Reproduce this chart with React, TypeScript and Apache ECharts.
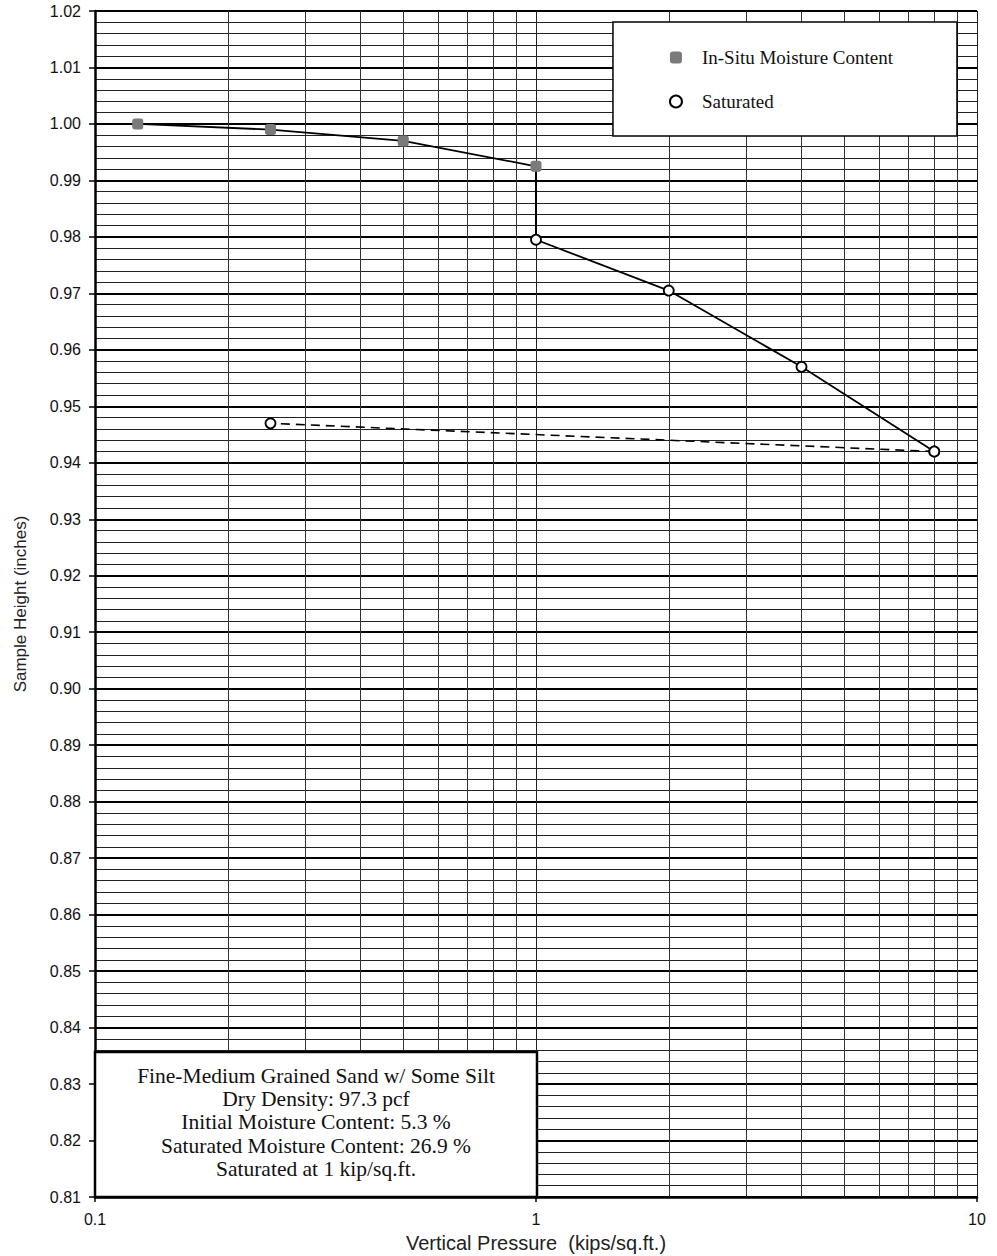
import React, { useEffect, useRef } from "react";
import * as echarts from "echarts";

const inSituX = [0.125, 0.25, 0.5, 1];
const inSituY = [1.0, 0.999, 0.997, 0.9925];
const satLoadX = [1, 2, 4, 8];
const satLoadY = [0.9795, 0.9705, 0.957, 0.942];
const satReboundX = [8, 0.25];
const satReboundY = [0.942, 0.947];
const minorX = [0.2, 0.3, 0.4, 0.5, 0.6, 0.7, 0.8, 0.9, 2, 3, 4, 5, 6, 7, 8, 9];
const noteLines = [
  "Fine-Medium Grained Sand w/ Some Silt",
  "Dry Density: 97.3 pcf",
  "Initial Moisture Content: 5.3 %",
  "Saturated Moisture Content: 26.9 %",
  "Saturated at 1 kip/sq.ft.",
];

const zip = (xs: number[], ys: number[]) => xs.map((x, i) => [x, ys[i]]);

export default function App() {
  const ref = useRef<HTMLDivElement>(null);
  useEffect(() => {
    document.body.style.margin = "0";
    const chart = echarts.init(ref.current!, null, { renderer: "svg" });
    const sans = "Liberation Sans, Arial, sans-serif";
    const serif = "Liberation Serif, Times New Roman, serif";
    chart.setOption({
      animation: false,
      backgroundColor: "#fff",
      grid: { left: 95, right: 20, top: 11, bottom: 59, containLabel: false, outerBoundsMode: "none" },
      xAxis: {
        type: "log",
        logBase: 10,
        min: 0.1,
        max: 10,
        name: "Vertical Pressure  (kips/sq.ft.)",
        nameLocation: "middle",
        nameGap: 36,
        nameTextStyle: { fontFamily: sans, fontSize: 20, color: "#222" },
        axisLine: { show: true, onZero: false, lineStyle: { color: "#000", width: 2.5 } },
        axisTick: { show: true, length: 5, lineStyle: { color: "#000", width: 1.5 } },
        axisLabel: {
          fontFamily: sans,
          fontSize: 16,
          color: "#111",
          margin: 14,
          formatter: (v: number) => (v < 1 ? "0.1" : String(Math.round(v))),
        },
        splitLine: { show: true, lineStyle: { color: "#222", width: 1 } },
        minorTick: { show: false },
      },
      yAxis: {
        type: "value",
        min: 0.81,
        max: 1.02,
        interval: 0.01,
        name: "Sample Height (inches)",
        nameLocation: "middle",
        nameGap: 66,
        nameRotate: 90,
        nameTextStyle: { fontFamily: sans, fontSize: 17, color: "#222" },
        axisLine: { show: true, lineStyle: { color: "#000", width: 2.5 } },
        axisTick: { show: true, length: 6, lineStyle: { color: "#000", width: 1.5 } },
        axisLabel: {
          fontFamily: sans,
          fontSize: 16,
          color: "#111",
          margin: 14,
          formatter: (v: number) => v.toFixed(2),
        },
        splitLine: { show: true, lineStyle: { color: "#000", width: 1.8 } },
        minorTick: { show: false, splitNumber: 5 },
        minorSplitLine: { show: true, lineStyle: { color: "#222", width: 1 } },
      },
      legend: {
        orient: "vertical",
        right: 40,
        top: 22,
        z: 50,
        padding: [26, 64, 25, 56],
        itemGap: 25,
        itemWidth: 12,
        itemHeight: 12,
        backgroundColor: "#fff",
        borderColor: "#000",
        borderWidth: 1.5,
        borderRadius: 0,
        textStyle: { fontFamily: serif, fontSize: 19, color: "#111", padding: [0, 0, 0, 15] },
        data: [
          { name: "In-Situ Moisture Content", icon: "roundRect", itemStyle: { color: "#7a7a7a", borderWidth: 0 } },
          { name: "Saturated", icon: "circle", itemStyle: { color: "#fff", borderColor: "#000", borderWidth: 2 } },
        ],
      },
      series: [
        {
          name: "grid-minor-x",
          type: "line",
          data: [],
          silent: true,
          z: 1,
          markLine: {
            silent: true,
            symbol: "none",
            z: 1,
            label: { show: false },
            lineStyle: { color: "#333", width: 1, type: "solid" },
            data: minorX.map((x) => ({ xAxis: x })),
          },
        },
        {
          name: "In-Situ Moisture Content",
          type: "line",
          data: zip(inSituX, inSituY),
          symbol: "roundRect",
          symbolSize: 11,
          itemStyle: { color: "#7a7a7a" },
          lineStyle: { color: "#000", width: 1.8 },
          z: 5,
        },
        {
          name: "saturation-step",
          type: "line",
          data: zip([inSituX[3], satLoadX[0]], [inSituY[3], satLoadY[0]]),
          symbol: "none",
          lineStyle: { color: "#000", width: 2 },
          z: 4,
        },
        {
          name: "Saturated",
          type: "line",
          data: zip(satLoadX, satLoadY),
          symbol: "circle",
          symbolSize: 10,
          itemStyle: { color: "#fff", borderColor: "#000", borderWidth: 1.8 },
          lineStyle: { color: "#000", width: 1.8 },
          z: 6,
        },
        {
          name: "Saturated rebound",
          type: "line",
          data: zip(satReboundX, satReboundY),
          symbol: "circle",
          symbolSize: 10,
          itemStyle: { color: "#fff", borderColor: "#000", borderWidth: 1.8 },
          lineStyle: { color: "#000", width: 1.6, type: [9, 6] },
          z: 6,
        },
      ],
      graphic: [
        {
          type: "rect",
          shape: { x: 95, y: 1052, width: 442, height: 145 },
          style: { fill: "#fff", stroke: "#000", lineWidth: 2.5 },
          z: 100,
        },
        {
          type: "text",
          x: 316,
          y: 1064,
          z: 101,
          style: {
            text: noteLines.join("\n"),
            fontFamily: serif,
            fontSize: 21.5,
            lineHeight: 23.3,
            fill: "#111",
            align: "center",
            verticalAlign: "top",
          },
        },
      ],
    });
    return () => chart.dispose();
  }, []);
  return <div ref={ref} style={{ width: 997, height: 1256 }} />;
}
